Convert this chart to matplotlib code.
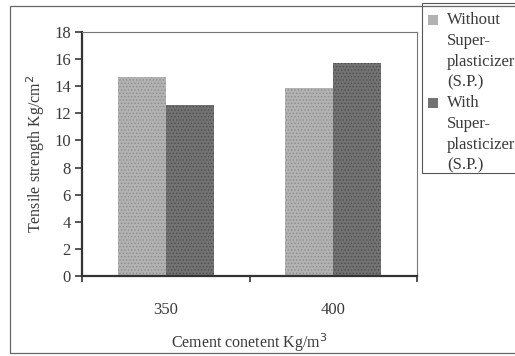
import matplotlib
matplotlib.use('Agg')
import matplotlib.pyplot as plt
import numpy as np
from matplotlib.patches import Rectangle

plt.rcParams['font.family'] = 'Liberation Serif'
plt.rcParams['hatch.linewidth'] = 0.6

cement = ['350', '400']
without_sp = [14.7, 13.9]
with_sp = [12.6, 15.7]
labels = ['Without\nSuper-\nplasticizer\n(S.P.)', 'With\nSuper-\nplasticizer\n(S.P.)']

W, H = 515, 356
txt = '#3a3a3a'
styles = [dict(color='#b2b2b2', edgecolor='#8c8c8c', hatch='.....'),
          dict(color='#727272', edgecolor='#4e4e4e', hatch='.....')]

fig = plt.figure(figsize=(W / 100, H / 100), dpi=100)
ax = fig.add_axes([82 / W, 80 / H, 335 / W, 244 / H])

x = np.arange(len(cement))
w = 0.287
ax.bar(x - w / 2, without_sp, w, linewidth=0, **styles[0])
ax.bar(x + w / 2, with_sp, w, linewidth=0, **styles[1])

ax.set_xlim(-0.5, 1.5)
ax.set_ylim(0, 18)
ax.set_yticks(range(0, 19, 2))
ax.set_xticks(x)
ax.set_xticklabels(cement)
ax.set_xticks([-0.5, 0.5, 1.5], minor=True)
ax.tick_params(axis='x', which='major', length=0, pad=19, labelsize=12, colors=txt)
ax.tick_params(axis='x', which='minor', length=4, width=1.2, color='#333333')
ax.tick_params(axis='y', length=5, width=1.2, labelsize=12, colors=txt, pad=3)
for side in ['left', 'bottom']:
    ax.spines[side].set_linewidth(1.6)
    ax.spines[side].set_color('#333333')
for side in ['top', 'right']:
    ax.spines[side].set_linewidth(0.8)
    ax.spines[side].set_color('#777777')

ax.set_ylabel('Tensile strength Kg/cm$^2$', fontsize=11.5, color=txt, labelpad=5)
ax.set_xlabel('Cement conetent Kg/m$^3$', fontsize=11.5, color=txt, labelpad=9)

# legend box drawn by hand so the swatch sits on the first text line
fig.patches.append(Rectangle((422 / W, 1 - 173 / H), 100 / W, 170 / H, transform=fig.transFigure,
                             fill=False, edgecolor='#555555', linewidth=0.8))
line_h = 20.8
y0 = 20
for i, lab in enumerate(labels):
    top = y0 + i * 4 * line_h
    fig.patches.append(Rectangle((428 / W, 1 - (top + 5) / H), 10 / W, 10 / H,
                                 transform=fig.transFigure, linewidth=0, **styles[i]))
    for j, part in enumerate(lab.split('\n')):
        fig.text(447 / W, 1 - (top + j * line_h) / H, part, fontsize=12, color=txt,
                 ha='left', va='center')

# outer chart frame
fig.patches.append(Rectangle((10 / W, 3 / H), 510 / W, 347 / H, transform=fig.transFigure,
                             fill=False, edgecolor='#666666', linewidth=0.9))

fig.savefig('out.png', dpi=100)
